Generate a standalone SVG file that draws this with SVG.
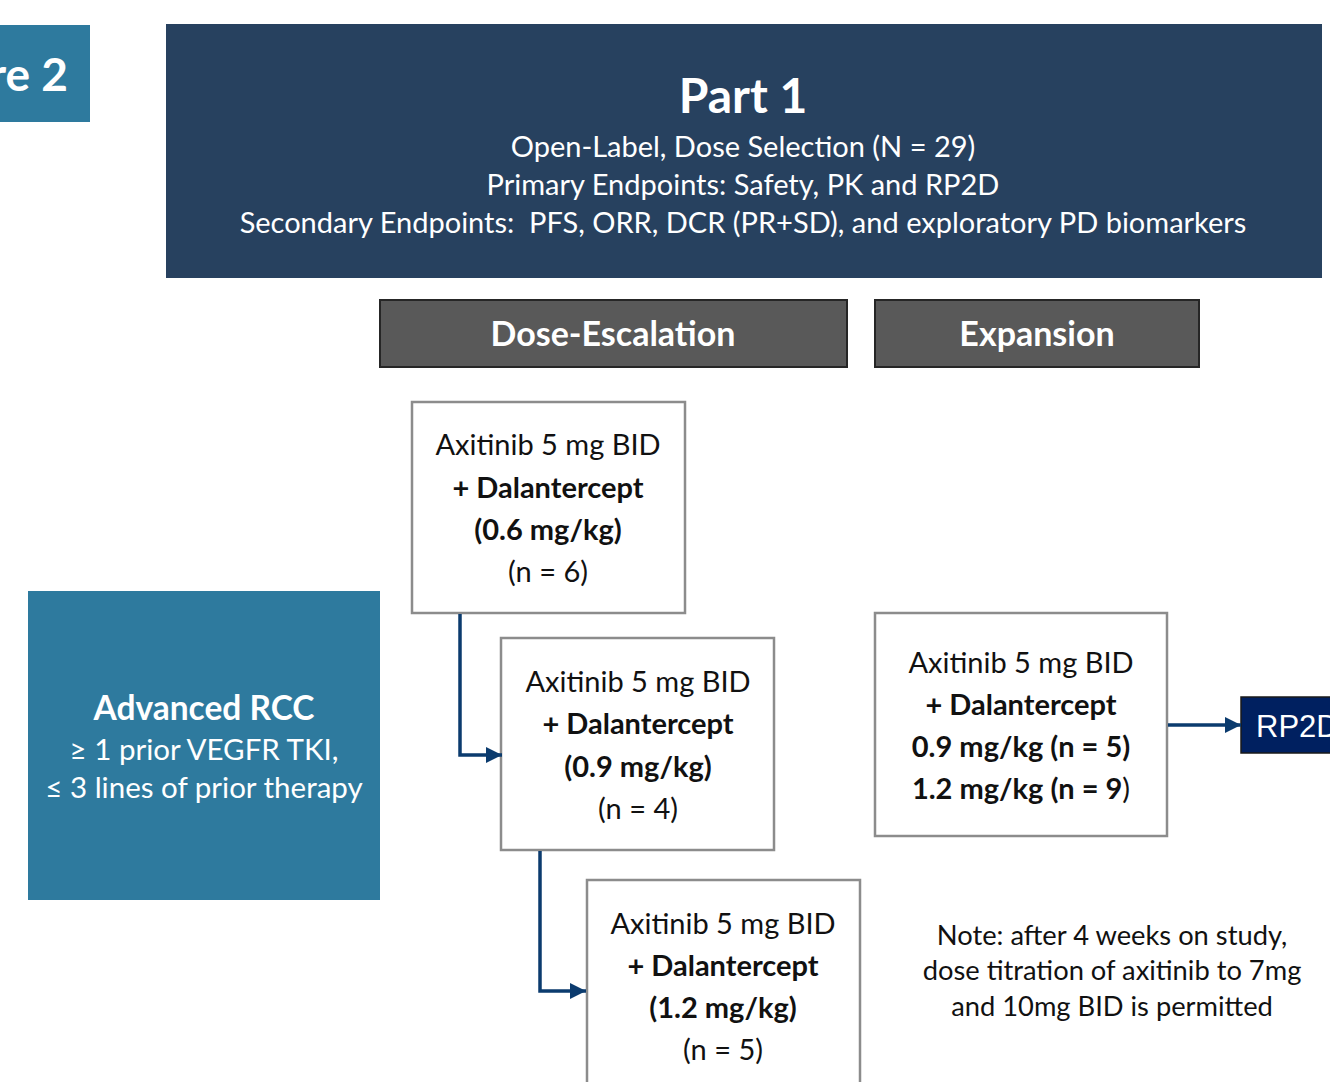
<svg xmlns="http://www.w3.org/2000/svg" width="1330" height="1082" viewBox="0 0 1330 1082">
<style>
text{font-family:Lato,"Open Sans","Liberation Sans",sans-serif;white-space:pre}
.w{fill:#ffffff}
.k{fill:#111111}
.c{text-anchor:middle}
.b{font-weight:bold}
.box{fill:#ffffff;stroke:#8c8c8c;stroke-width:2.5}
.hdr{fill:#595959;stroke:#262626;stroke-width:2}
.t28{font-size:29px}
.conn{fill:none;stroke:#0b3b6e;stroke-width:3.5}
</style>
<defs>
<marker id="ah" viewBox="0 0 10 10" refX="10" refY="5" markerWidth="4.6" markerHeight="4.6" orient="auto" markerUnits="strokeWidth">
<path d="M0,0 L10,5 L0,10 z" fill="#0b3b6e"/>
</marker>
</defs>
<rect width="1330" height="1082" fill="#ffffff"/>

<g id="figure-label">
<rect x="0" y="25" width="90" height="97" fill="#2e7a9e"/>
<text x="68" y="91" class="w b" style="font-size:46px;text-anchor:end">re 2</text>
</g>

<g id="part1">
<rect x="166" y="24" width="1156" height="254" fill="#27415f"/>
<text x="743" y="113" class="w b c" style="font-size:48px">Part 1</text>
<text x="743" y="157" class="w c t28">Open-Label, Dose Selection (N = 29)</text>
<text x="743" y="195" class="w c t28">Primary Endpoints: Safety, PK and RP2D</text>
<text x="743" y="233" class="w c t28">Secondary Endpoints:  PFS, ORR, DCR (PR+SD), and exploratory PD biomarkers</text>
</g>

<g id="dose-escalation">
<rect x="380" y="300" width="467" height="67" class="hdr"/>
<text x="613" y="346" class="w b c" style="font-size:34px">Dose-Escalation</text>
</g>

<g id="expansion">
<rect x="875" y="300" width="324" height="67" class="hdr"/>
<text x="1037" y="346" class="w b c" style="font-size:34px">Expansion</text>
</g>

<g id="rcc">
<rect x="28" y="591" width="352" height="309" fill="#2e7a9e"/>
<text x="204" y="720" class="w b c" style="font-size:33.5px">Advanced RCC</text>
<text x="204" y="760" class="w c" style="font-size:29.5px">≥ 1 prior VEGFR TKI,</text>
<text x="204" y="798" class="w c" style="font-size:29.5px">≤ 3 lines of prior therapy</text>
</g>

<g id="dose1">
<rect x="412" y="402" width="273" height="211" class="box"/>
<text x="548" y="455" class="k c t28">Axitinib 5 mg BID</text>
<text x="548" y="498" class="k c t28 b">+ Dalantercept</text>
<text x="548" y="540" class="k c t28 b">(0.6 mg/kg)</text>
<text x="548" y="582" class="k c t28">(n = 6)</text>
</g>

<g id="dose2">
<rect x="501" y="638" width="273" height="212" class="box"/>
<text x="638" y="692" class="k c t28">Axitinib 5 mg BID</text>
<text x="638" y="734" class="k c t28 b">+ Dalantercept</text>
<text x="638" y="777" class="k c t28 b">(0.9 mg/kg)</text>
<text x="638" y="819" class="k c t28">(n = 4)</text>
</g>

<g id="dose3">
<rect x="587" y="880" width="273" height="215" class="box"/>
<text x="723" y="934" class="k c t28">Axitinib 5 mg BID</text>
<text x="723" y="976" class="k c t28 b">+ Dalantercept</text>
<text x="723" y="1018" class="k c t28 b">(1.2 mg/kg)</text>
<text x="723" y="1060" class="k c t28">(n = 5)</text>
</g>

<g id="expansion-arm">
<rect x="875" y="613" width="292" height="223" class="box"/>
<text x="1021" y="673" class="k c t28">Axitinib 5 mg BID</text>
<text x="1021" y="715" class="k c t28 b">+ Dalantercept</text>
<text x="1021" y="757" class="k c t28 b">0.9 mg/kg (n = 5)</text>
<text x="1021" y="799" class="k c t28"><tspan class="b">1.2 mg/kg (n = 9</tspan>)</text>
</g>

<g id="rp2d">
<rect x="1241" y="697" width="100" height="56" fill="#002060" stroke="#1a1a1a" stroke-width="1.5"/>
<text x="1256" y="737" class="w" style="font-family:'Liberation Sans',Arial,sans-serif;font-size:31px">RP2D</text>
</g>

<g id="note">
<text x="1112" y="945" class="k c" style="font-size:27.3px">Note: after 4 weeks on study,</text>
<text x="1112" y="980" class="k c" style="font-size:27.3px">dose titration of axitinib to 7mg</text>
<text x="1112" y="1016" class="k c" style="font-size:27.3px">and 10mg BID is permitted</text>
</g>

<g id="connectors">
<path d="M460,614 V755 H502" class="conn" marker-end="url(#ah)"/>
<path d="M540,851 V991 H586" class="conn" marker-end="url(#ah)"/>
<path d="M1168,725 H1241" class="conn" marker-end="url(#ah)"/>
</g>
</svg>
